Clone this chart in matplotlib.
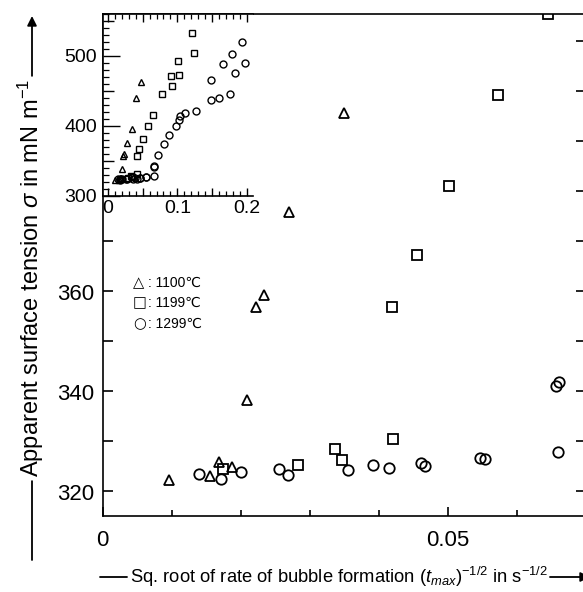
import numpy as np
import matplotlib
matplotlib.use("Agg")
import matplotlib.pyplot as plt
from matplotlib.ticker import MultipleLocator, FixedLocator, FixedFormatter

plt.rcParams['font.family'] = ['Liberation Sans', 'DejaVu Sans']
plt.rcParams['mathtext.fontset'] = 'custom'
plt.rcParams['mathtext.rm'] = 'Liberation Sans'
plt.rcParams['mathtext.it'] = 'Liberation Sans:italic'

# main plot data
x1100 = [0.0096, 0.0155, 0.0169, 0.0188, 0.0209, 0.0222, 0.0233, 0.0270, 0.0350]
y1100 = [322.2, 323.0, 325.8, 324.8, 338.2, 356.8, 359.3, 375.8, 395.6]

x1199 = [0.0175, 0.0283, 0.0336, 0.0347, 0.0421, 0.0419, 0.0455, 0.0502, 0.0573, 0.0645]
y1199 = [324.4, 325.2, 328.4, 326.3, 330.4, 356.8, 367.2, 381.0, 399.2, 415.4]

x1299 = [0.0140, 0.0172, 0.0201, 0.0256, 0.0268, 0.0355, 0.0392, 0.0414, 0.0461,
         0.0467, 0.0546, 0.0554, 0.0659, 0.0657, 0.0661]
y1299 = [323.4, 322.5, 323.8, 324.4, 323.3, 324.3, 325.3, 324.6, 325.6,
         325.0, 326.6, 326.4, 327.8, 341.1, 341.8]

# extra points only visible in the inset (wider range)
ix1100 = [0.0405, 0.0473]
iy1100 = [439.3, 463.1]
ix1199 = [0.0775, 0.0905, 0.0919, 0.1005, 0.1029, 0.1207, 0.1240]
iy1199 = [445.0, 471.6, 456.4, 492.3, 472.4, 533.1, 504.3]
ix1299 = [0.0726, 0.0808, 0.0885, 0.0977, 0.1029, 0.1039, 0.1115, 0.1270, 0.1486,
          0.1597, 0.1760, 0.1486, 0.1663, 0.1793, 0.1832, 0.1928, 0.1980]
iy1299 = [358.0, 374.4, 387.2, 399.1, 408.5, 413.4, 418.0, 420.5, 437.0,
          439.3, 445.5, 465.9, 489.1, 503.3, 475.8, 519.9, 490.0]

legend_syms = ['\u25b3', '\u25a1', '\u25cb']
legend_labels = [': 1100\u2103', ': 1199\u2103', ': 1299\u2103']

W, H = 583, 592
fig = plt.figure(figsize=(W / 100, H / 100), dpi=100)

def px(x0, y0, x1, y1):
    # pixel box (top-left origin) -> figure fraction rect
    return [x0 / W, 1 - y1 / H, (x1 - x0) / W, (y1 - y0) / H]

ax = fig.add_axes(px(102.5, 14, 586.2, 516))
mk = dict(linestyle='none', markerfacecolor='none', markeredgecolor='black', markeredgewidth=1.3)
ax.plot(x1100, y1100, marker='^', markersize=7.5, **mk)
ax.plot(x1199, y1199, marker='s', markersize=7, **mk)
ax.plot(x1299, y1299, marker='o', markersize=7.5, **mk)
ax.set_xlim(0, 0.07)
ax.set_ylim(315.1, 415.5)
for s in ax.spines.values():
    s.set_linewidth(1.2)
ax.xaxis.set_major_locator(FixedLocator([0, 0.05]))
ax.xaxis.set_major_formatter(FixedFormatter(['0', '0.05']))
ax.xaxis.set_minor_locator(MultipleLocator(0.01))
yt = list(range(320, 420, 10))
ax.yaxis.set_major_locator(FixedLocator(yt))
ax.yaxis.set_major_formatter(FixedFormatter([str(v) if v in (320, 340, 360) else '' for v in yt]))
ax.tick_params(axis='x', which='major', direction='in', length=6.5, width=1.2, labelsize=16, pad=10)
ax.tick_params(axis='x', which='minor', direction='in', length=4.3, width=1.2)
ax.tick_params(axis='y', which='major', direction='in', length=7, width=1.2, labelsize=16,
               right=True, pad=6)

# inset
ia = fig.add_axes(px(102.7, 14, 253, 195.7), zorder=5)
ia.set_facecolor('white')
mi = dict(linestyle='none', markerfacecolor='none', markeredgecolor='black', markeredgewidth=1.0)
ia.plot(x1100 + ix1100, y1100 + iy1100, marker='^', markersize=5, **mi)
ia.plot(x1199 + ix1199, y1199 + iy1199, marker='s', markersize=4.5, **mi)
ia.plot(x1299 + ix1299, y1299 + iy1299, marker='o', markersize=5, **mi)
ia.set_xlim(-0.0075, 0.209)
ia.set_ylim(300, 560)
ia.spines['right'].set_visible(False)
for s in ia.spines.values():
    s.set_linewidth(1.2)
ia.xaxis.set_major_locator(FixedLocator([0, 0.05, 0.1, 0.15, 0.2]))
ia.xaxis.set_major_formatter(FixedFormatter(['0', '', '0.1', '', '0.2']))
ia.xaxis.set_minor_locator(MultipleLocator(0.01))
ia.yaxis.set_major_locator(FixedLocator([300, 350, 400, 450, 500, 550]))
ia.yaxis.set_major_formatter(FixedFormatter(['300', '', '400', '', '500', '']))
ia.yaxis.set_minor_locator(MultipleLocator(10))
ia.tick_params(axis='x', which='major', direction='in', length=6, width=1, top=True,
               labelsize=14, pad=3)
ia.tick_params(axis='x', which='minor', direction='in', length=3.5, width=0.9, top=True)
ia.tick_params(axis='y', which='major', direction='in', length=8, width=1, labelsize=14, pad=4)
ia.tick_params(axis='y', which='minor', direction='in', length=4, width=0.9)
for t, v in zip(ia.yaxis.get_major_ticks(), [300, 350, 400, 450, 500, 550]):
    if v % 100 == 0:
        t.tick1line.set_markersize(12)

# legend text (symbol drawn a bit larger than the label)
for i, y in enumerate([283, 303, 324]):
    fig.text(133 / W, 1 - y / H, legend_syms[i], fontsize=10.5, va='center', ha='left',
             family='DejaVu Sans')
    fig.text(148 / W, 1 - y / H, legend_labels[i], fontsize=10, va='center', ha='left')

# axis titles with arrows
xl = fig.text(339 / W, 1 - 577 / H,
              r'Sq. root of rate of bubble formation $(t_{max})^{-1/2}$ in s$^{-1/2}$',
              fontsize=13.2, ha='center', va='center')
yl = fig.text(31 / W, 1 - 278 / H, r'Apparent surface tension $\sigma$ in mN m$^{-1}$',
              fontsize=17, rotation=90, ha='center', va='center')

fig.canvas.draw()
r = fig.canvas.get_renderer()
bx = xl.get_window_extent(r)
by = yl.get_window_extent(r)
yc = H - 577
xc = (by.x0 + by.x1) / 2 + 1
ap = dict(arrowstyle='-|>', color='black', lw=1.3, mutation_scale=14, shrinkA=0, shrinkB=0)
lp = dict(arrowstyle='-', color='black', lw=1.3, shrinkA=0, shrinkB=0)
kw = dict(xycoords='figure pixels', textcoords='figure pixels', annotation_clip=False)
ax.annotate('', xy=(bx.x0 - 3, yc), xytext=(100, yc), arrowprops=lp, **kw)
ax.annotate('', xy=(590, yc), xytext=(bx.x1 + 2, yc), arrowprops=ap, **kw)
ax.annotate('', xy=(xc, by.y0 - 4), xytext=(xc, H - 560), arrowprops=lp, **kw)
ax.annotate('', xy=(xc, H - 16), xytext=(xc, by.y1 + 3), arrowprops=ap, **kw)

fig.savefig('out.png', dpi=100)
